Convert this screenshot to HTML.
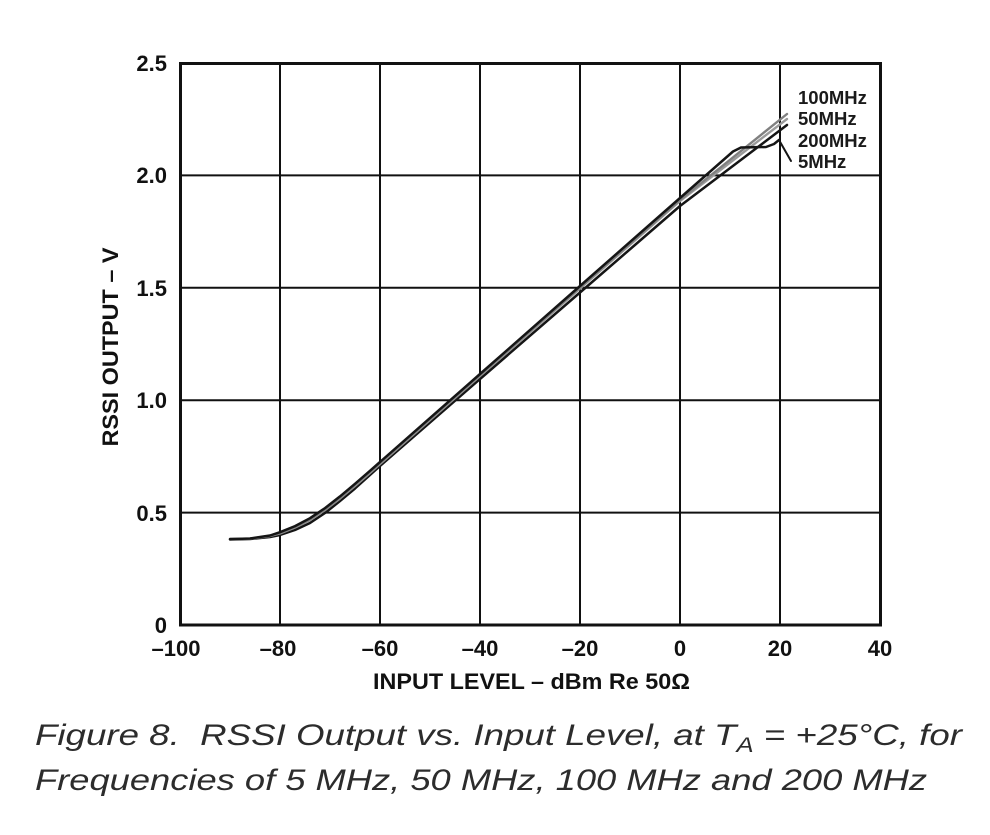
<!DOCTYPE html>
<html>
<head>
<meta charset="utf-8">
<style>
  html,body{margin:0;padding:0;background:#ffffff;}
  svg{display:block;}
  .tick{font-family:"Liberation Sans",Arial,sans-serif;font-weight:bold;font-size:22px;fill:#111;}
  .lab{font-family:"Liberation Sans",Arial,sans-serif;font-weight:bold;font-size:18.5px;fill:#1a1a1a;}
  .cap{font-family:"Liberation Sans",Arial,sans-serif;font-style:italic;font-size:30px;fill:#2c2c2c;white-space:pre;}
</style>
</head>
<body>
<svg width="990" height="835" viewBox="0 0 990 835" xmlns="http://www.w3.org/2000/svg">
  <rect x="0" y="0" width="990" height="835" fill="#ffffff"/>

  <!-- grid -->
  <g stroke="#111" stroke-width="2" fill="none">
    <line x1="280" y1="63" x2="280" y2="625"/>
    <line x1="380" y1="63" x2="380" y2="625"/>
    <line x1="480" y1="63" x2="480" y2="625"/>
    <line x1="580" y1="63" x2="580" y2="625"/>
    <line x1="680" y1="63" x2="680" y2="625"/>
    <line x1="780" y1="63" x2="780" y2="625"/>
    <line x1="180" y1="175.4" x2="880" y2="175.4"/>
    <line x1="180" y1="287.8" x2="880" y2="287.8"/>
    <line x1="180" y1="400.2" x2="880" y2="400.2"/>
    <line x1="180" y1="512.6" x2="880" y2="512.6"/>
  </g>
  <rect x="180.5" y="63.5" width="700" height="561.5" fill="none" stroke="#111" stroke-width="3"/>

  <!-- series -->
  <g fill="none" stroke-linejoin="round" stroke-linecap="round">
    <!-- 200MHz (lower black) -->
    <polyline stroke="#151515" stroke-width="2.5"
      points="230,539.5 250,539 270,537 280,535 295,530 310,523 325,513 340,501 355,488.5 370,475 380,466 480,379 580,292.5 680,206 787,125"/>
    <!-- 50MHz gray -->
    <polyline stroke="#9a9a9a" stroke-width="2.4"
      points="230,539 250,538.7 270,536 280,533.5 295,527.5 310,520 325,510 340,498.5 355,486 370,473 380,464 480,376 580,288.5 680,201 787,119"/>
    <!-- 100MHz gray -->
    <polyline stroke="#808080" stroke-width="2.4"
      points="230,539 250,538.6 270,535.8 280,533 295,527 310,519.5 325,509.5 340,497.8 355,485 370,472 380,463 480,375 580,287.5 680,200 787,114"/>
    <!-- 5MHz (upper black) -->
    <polyline stroke="#151515" stroke-width="2.5"
      points="230,539.1 250,538.5 270,535.5 280,532.2 295,526.1 310,518.2 325,508.1 340,496.4 355,483.8 370,470.8 380,462 480,374 580,286 680,198 733,151.5 741,147.5 766,147 774,144 779,140"/>
    <!-- leader -->
    <polyline stroke="#151515" stroke-width="2" points="779,140 791,161"/>
  </g>

  <!-- series labels -->
  <text class="lab" x="798" y="104">100MHz</text>
  <text class="lab" x="798" y="125">50MHz</text>
  <text class="lab" x="798" y="147">200MHz</text>
  <text class="lab" x="798" y="168">5MHz</text>

  <!-- y tick labels -->
  <g class="tick" text-anchor="end">
    <text x="167" y="71">2.5</text>
    <text x="167" y="183">2.0</text>
    <text x="167" y="296">1.5</text>
    <text x="167" y="408">1.0</text>
    <text x="167" y="521">0.5</text>
    <text x="167" y="633">0</text>
  </g>

  <!-- x tick labels -->
  <g class="tick" text-anchor="middle">
    <text x="176" y="656">–100</text>
    <text x="278" y="656">–80</text>
    <text x="380" y="656">–60</text>
    <text x="480" y="656">–40</text>
    <text x="580" y="656">–20</text>
    <text x="680" y="656">0</text>
    <text x="780" y="656">20</text>
    <text x="880" y="656">40</text>
  </g>

  <!-- axis titles -->
  <text class="tick" x="373" y="689" textLength="317" lengthAdjust="spacingAndGlyphs">INPUT LEVEL – dBm Re 50Ω</text>
  <g transform="translate(118,347) rotate(-90)">
    <text class="tick" x="0" y="0" text-anchor="middle" textLength="199" lengthAdjust="spacingAndGlyphs">RSSI OUTPUT – V</text>
  </g>

  <!-- caption -->
  <text class="cap" x="35" y="745" textLength="927" lengthAdjust="spacingAndGlyphs">Figure 8.  RSSI Output vs. Input Level, at T<tspan font-size="21" dy="7">A</tspan><tspan dy="-7"> = +25°C, for</tspan></text>
  <text class="cap" x="35" y="790" textLength="892" lengthAdjust="spacingAndGlyphs">Frequencies of 5 MHz, 50 MHz, 100 MHz and 200 MHz</text>
</svg>
</body>
</html>
